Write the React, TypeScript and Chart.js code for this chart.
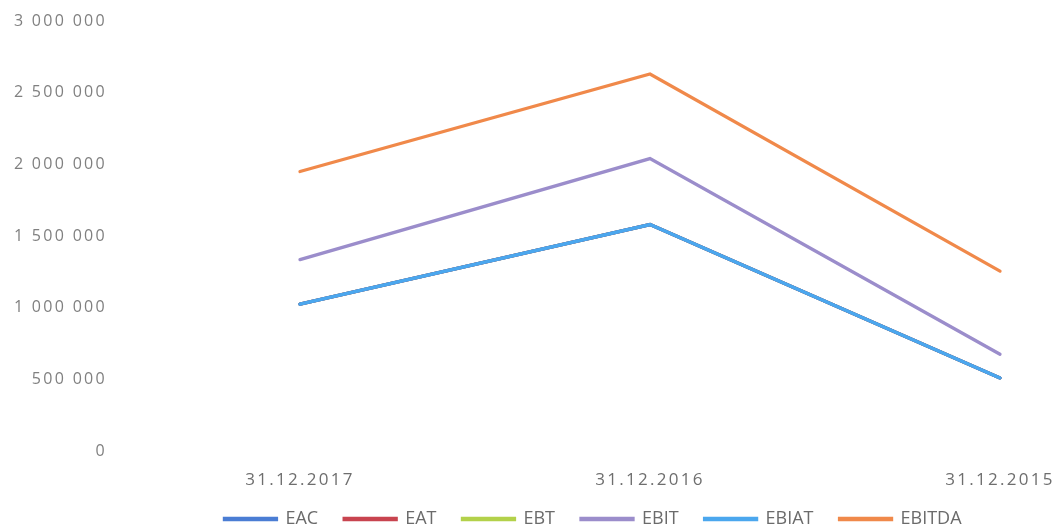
import React, { useEffect, useRef } from 'react';
import { Chart, registerables } from 'chart.js';

Chart.register(...registerables);

const categories = ['31.12.2017', '31.12.2016', '31.12.2015'];
const eacValues = [1025000, 1580000, 510000];
const eatValues = [1025000, 1580000, 510000];
const ebtValues = [1025000, 1580000, 510000];
const ebitValues = [1335000, 2040000, 675000];
const ebiatValues = [1025000, 1580000, 510000];
const ebitdaValues = [1950000, 2630000, 1255000];

const seriesNames = ['EAC', 'EAT', 'EBT', 'EBIT', 'EBIAT', 'EBITDA'];
const seriesValues = [eacValues, eatValues, ebtValues, ebitValues, ebiatValues, ebitdaValues];
const seriesColors = ['#4A7DD4', '#C8444F', '#B3D14A', '#9B8DCB', '#4BA7EE', '#F0894A'];
const seriesOrder = [3, 4, 5, 2, 1, 0];

const yMin = 0;
const yMax = 3000000;
const yStep = 500000;

const formatNumber = (v: number) => String(v).replace(/\B(?=(\d{3})+(?!\d))/g, ' ');

const tickSpacing = {
  id: 'tickSpacing',
  afterDatasetsDraw(chart: any) {
    chart.ctx.letterSpacing = '2.3px';
  },
  afterDraw(chart: any) {
    chart.ctx.letterSpacing = '0px';
  },
};

const layoutTweaks = {
  id: 'layoutTweaks',
  afterLayout(chart: any) {
    const lg = chart.legend;
    if (lg) {
      const dx = 89;
      const dy = 7;
      lg.left += dx;
      lg.right += dx;
      lg.top += dy;
      lg.bottom += dy;
    }
    const xs = chart.scales.x;
    if (xs) xs.bottom = xs.top + 50;
  },
};

export default function App() {
  const canvasRef = useRef<HTMLCanvasElement | null>(null);

  useEffect(() => {
    if (!canvasRef.current) return;
    Chart.defaults.font.family = "'Open Sans', sans-serif";
    const chart = new Chart(canvasRef.current, {
      type: 'line',
      data: {
        labels: categories,
        datasets: seriesNames.map((name, i) => ({
          label: name,
          data: seriesValues[i],
          borderColor: seriesColors[i],
          backgroundColor: seriesColors[i],
          borderWidth: 3.3,
          pointRadius: 0,
          pointHoverRadius: 0,
          tension: 0,
          fill: false,
          borderCapStyle: 'round' as const,
          clip: false as any,
          order: seriesOrder[i],
        })),
      },
      options: {
        responsive: false,
        maintainAspectRatio: false,
        animation: false,
        layout: { padding: { left: 8, right: 56, top: 21, bottom: 0 } },
        plugins: {
          tooltip: { enabled: false },
          legend: {
            position: 'bottom',
            labels: {
              boxWidth: 52,
              boxHeight: 1,
              padding: 26,
              color: '#6B6B6B',
              font: { size: 18 },
              sort: (a: any, b: any) => a.datasetIndex - b.datasetIndex,
            },
          },
        },
        scales: {
          x: {
            type: 'category',
            offset: false,
            grid: { display: false, drawTicks: false },
            border: { display: false },
            ticks: { padding: 19, color: '#6E6E6E', font: { size: 17 }, z: 1 },
            afterFit: (s: any) => {
              s.height = 26;
              s.paddingLeft = 0;
              s.paddingRight = 0;
            },
          },
          y: {
            min: yMin,
            max: yMax,
            grid: { display: false, drawTicks: false },
            border: { display: false },
            ticks: {
              stepSize: yStep,
              padding: 193,
              color: '#808080',
              font: { size: 16 },
              z: 1,
              callback: (v: any) => formatNumber(Number(v)),
            },
            afterFit: (s: any) => {
              s.width = 292;
              s.paddingTop = 10;
              s.paddingBottom = 10;
            },
          },
        },
      },
      plugins: [tickSpacing, layoutTweaks],
    });
    return () => chart.destroy();
  }, []);

  return (
    <div style={{ position: 'fixed', left: 0, top: 0, width: 1056, height: 531, background: '#fff' }}>
      <canvas ref={canvasRef} width={1056} height={531} style={{ display: 'block', width: 1056, height: 531 }} />
    </div>
  );
}
